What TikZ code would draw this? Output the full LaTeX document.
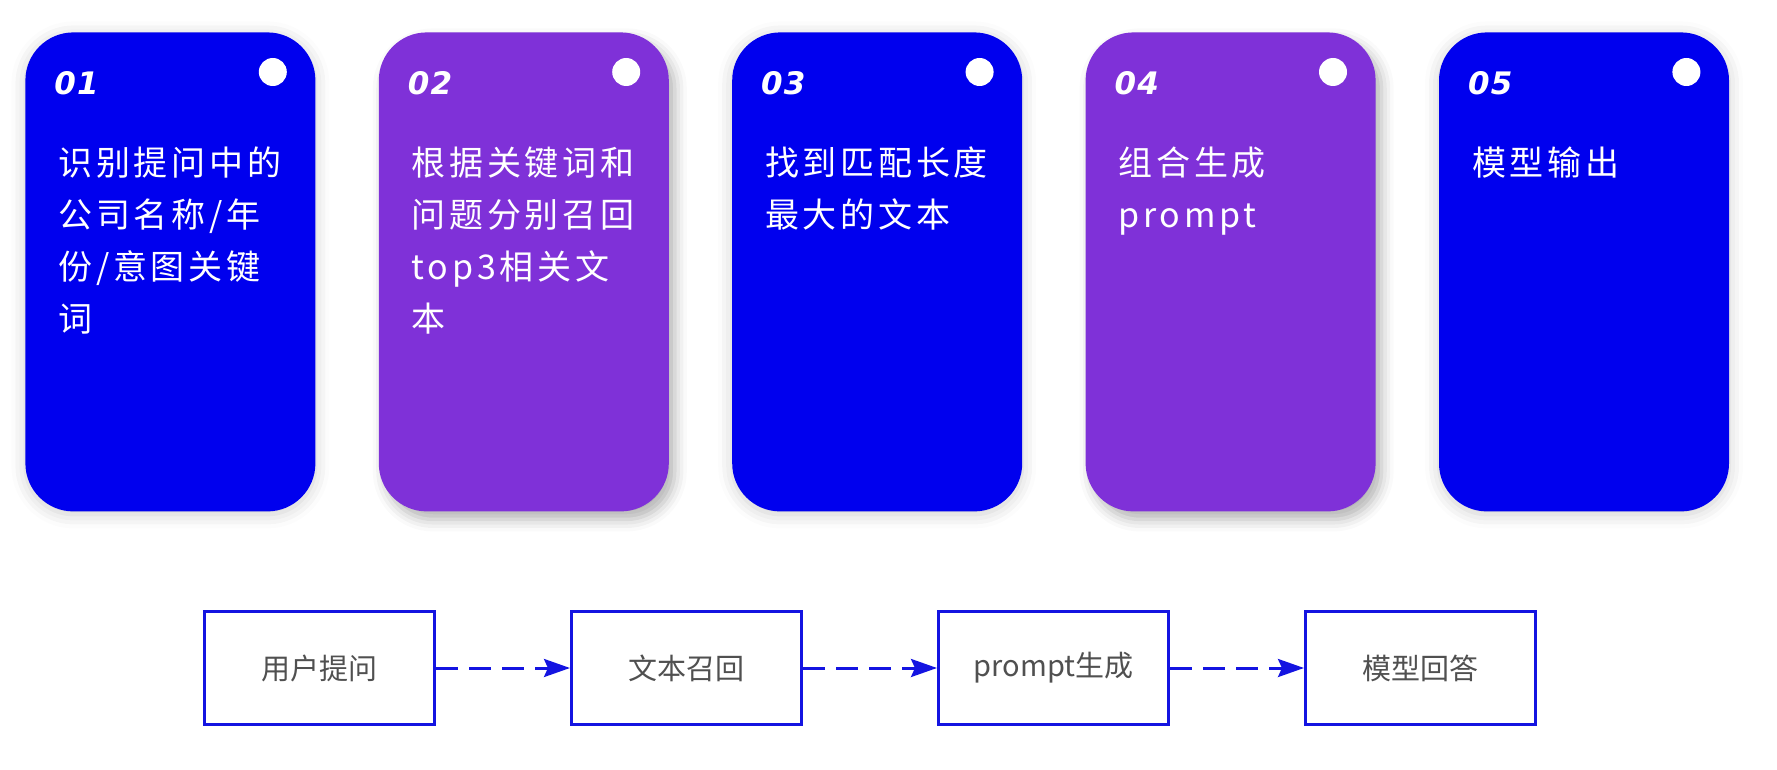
\documentclass[tikz,border=0pt]{standalone}
\usepackage{fontspec}
\usepackage{tikz}
\usetikzlibrary{positioning, arrows.meta, shadows.blur}

\newfontfamily\cjkfont{Noto Sans CJK SC}[LetterSpace=11]
\newfontfamily\boxfont{Noto Sans CJK SC}
\newfontfamily\numfont{DejaVu Sans}[LetterSpace=4]

\definecolor{cardblue}{RGB}{0,0,238}
\definecolor{cardpurple}{RGB}{127,49,216}
\definecolor{boxblue}{RGB}{20,20,225}
\definecolor{boxtext}{RGB}{80,80,80}

\begin{document}
\begin{tikzpicture}[
    card/.style={rounded corners=24pt, minimum width=145pt, minimum height=239.5pt, inner sep=0pt},
    bluecard/.style={card, fill=cardblue, blur shadow={shadow xshift=0pt, shadow yshift=-1.5pt, shadow blur radius=7pt, shadow opacity=20}},
    purplecard/.style={card, fill=cardpurple, blur shadow={shadow xshift=3pt, shadow yshift=-4pt, shadow blur radius=6pt, shadow opacity=30}},
    dot/.style={circle, fill=white, minimum size=14pt, inner sep=0pt},
    num/.style={anchor=base west, inner sep=0pt, text=white, font=\numfont\bfseries\itshape\fontsize{15.5}{15.5}\selectfont},
    cardtext/.style={anchor=north west, inner sep=0pt, align=left, text=white, font=\cjkfont\fontsize{17}{26}\selectfont},
    stepbox/.style={draw=boxblue, line width=1.5pt, fill=white, minimum width=115pt, minimum height=56.5pt, text=boxtext, font=\boxfont\fontsize{14.5}{14.5}\selectfont},
    arrow/.style={-{Stealth[length=13pt, width=9pt, inset=2pt]}, dash pattern=on 11pt off 5.5pt, line width=1.5pt, draw=boxblue}
]
    \useasboundingbox (0,0) rectangle (888.5pt,-385pt);

    % === Step cards ===
    \node[bluecard, anchor=north west] (card1) at (12.5pt,-16pt) {};
    \node[purplecard, right=31.3pt of card1] (card2) {};
    \node[bluecard, right=31.3pt of card2] (card3) {};
    \node[purplecard, right=31.3pt of card3] (card4) {};
    \node[bluecard, right=31.3pt of card4] (card5) {};

    % Dots
    \node[dot] (dot1) at ([xshift=-21.5pt, yshift=-20pt]card1.north east) {};
    \node[dot] (dot2) at ([xshift=-21.5pt, yshift=-20pt]card2.north east) {};
    \node[dot] (dot3) at ([xshift=-21.5pt, yshift=-20pt]card3.north east) {};
    \node[dot] (dot4) at ([xshift=-21.5pt, yshift=-20pt]card4.north east) {};
    \node[dot] (dot5) at ([xshift=-21.5pt, yshift=-20pt]card5.north east) {};

    % Numbers
    \node[num] (num1) at ([xshift=14.5pt, yshift=-31.5pt]card1.north west) {01};
    \node[num] (num2) at ([xshift=14.5pt, yshift=-31.5pt]card2.north west) {02};
    \node[num] (num3) at ([xshift=14.5pt, yshift=-31.5pt]card3.north west) {03};
    \node[num] (num4) at ([xshift=14.5pt, yshift=-31.5pt]card4.north west) {04};
    \node[num] (num5) at ([xshift=14.5pt, yshift=-31.5pt]card5.north west) {05};

    % Texts
    \node[cardtext] (text1) at ([xshift=16.5pt, yshift=-57pt]card1.north west) {识别提问中的\\公司名称/年\\份/意图关键\\词};
    \node[cardtext] (text2) at ([xshift=16.5pt, yshift=-57pt]card2.north west) {根据关键词和\\问题分别召回\\top3相关文\\本};
    \node[cardtext] (text3) at ([xshift=16.5pt, yshift=-57pt]card3.north west) {找到匹配长度\\最大的文本};
    \node[cardtext] (text4) at ([xshift=16.5pt, yshift=-57pt]card4.north west) {组合生成\\prompt};
    \node[cardtext] (text5) at ([xshift=16.5pt, yshift=-57pt]card5.north west) {模型输出};

    % === Flow ===
    \node[stepbox, anchor=north west] (ask) at (101.5pt,-305pt) {用户提问};
    \node[stepbox, right=67pt of ask] (recall) {文本召回};
    \node[stepbox, right=67pt of recall] (gen) {prompt生成};
    \node[stepbox, right=67pt of gen] (answer) {模型回答};

    \draw[arrow] (ask) -- (recall);
    \draw[arrow] (recall) -- (gen);
    \draw[arrow] (gen) -- (answer);

\end{tikzpicture}
\end{document}
